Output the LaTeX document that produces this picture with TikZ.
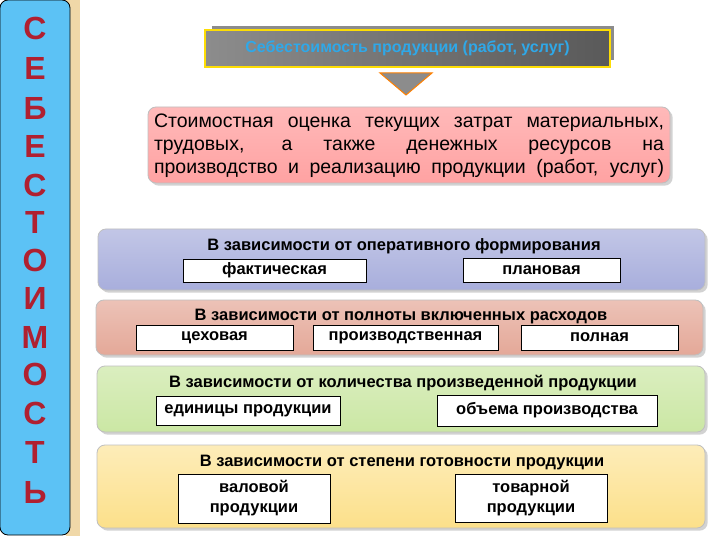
\documentclass[tikz,border=0pt]{standalone}
\usepackage{fontspec}
\setmainfont{Liberation Sans}
\usetikzlibrary{shadows}
\definecolor{barblue}{HTML}{5CC2F5}
\definecolor{beige}{HTML}{F0D8A8}
\definecolor{letred}{HTML}{B02030}
\definecolor{bandA}{HTML}{A8AEDC}
\definecolor{bandB}{HTML}{E4A898}
\definecolor{bandC}{HTML}{CBE7A4}
\definecolor{bandD}{HTML}{FCE08A}
\definecolor{pinkbox}{HTML}{FFA2A2}
\definecolor{ttlblue}{HTML}{2FA8E8}
\tikzset{
 band/.style={rounded corners=8pt, draw=black!25, line width=0.8pt, drop shadow={opacity=0.35}},
 sub/.style={draw=black, fill=white, line width=0.6pt, font=\bfseries\fontsize{16.5}{19}\selectfont, align=center, inner sep=0pt},
 btitle/.style={font=\bfseries\fontsize{16.5}{19}\selectfont},
 letter/.style={font=\bfseries\fontsize{32}{32}\selectfont, text=letred},
}
\begin{document}
\begin{tikzpicture}[x=1pt,y=-1pt]
\useasboundingbox (0,0) rectangle (720,540);
\fill[white] (0,0) rectangle (720,540);
% left bar
\fill[beige] (66,0) rectangle (80,536);
\draw[fill=barblue, rounded corners=8pt, line width=0.8pt] (0,0) rectangle (70,535);
\foreach \l/\y [count=\i] in {С/28,Е/68,Б/108,Е/146,С/185,Т/222,О/260,И/298,М/337,О/374,С/413,Т/452,Ь/492}
  \node[letter] (L\i) at (35,\y) {\l};
% title
\fill[black!45] (212,26) rectangle (614,60);
\node[draw=yellow!80!orange, line width=1.5pt, left color=black!45, right color=black!65, minimum width=405pt, minimum height=37pt, text=ttlblue, font=\bfseries\fontsize{16}{18}\selectfont, inner sep=0pt] (title) at (407.5,48.5) {Себестоимость продукции (работ, услуг)};
\draw[fill=black!45, draw=orange, line width=1pt] (380,73) -- (432,73) -- (406,95) -- cycle;
% pink
\node[band, top color=pinkbox!75, bottom color=pinkbox, minimum width=522pt, minimum height=76pt, inner sep=0pt] (def) at (409,145) {};
\node[font=\fontsize{19.5}{23}\selectfont, align=left, inner sep=0pt] (deftext) at (409,146) {\makebox[510pt][s]{Стоимостная оценка текущих затрат материальных,}\\\makebox[510pt][s]{трудовых, а также денежных ресурсов на}\\\makebox[510pt][s]{производство и реализацию продукции (работ, услуг)}};
% bands
\node[band, top color=bandA!70, bottom color=bandA, minimum width=607pt, minimum height=61pt] (b1) at (401.5,259.5) {};
\node[band, top color=bandB!70, bottom color=bandB, minimum width=607pt, minimum height=55pt] (b2) at (399.5,327.5) {};
\node[band, top color=bandC!70, bottom color=bandC, minimum width=608pt, minimum height=66pt] (b3) at (401,399) {};
\node[band, top color=bandD!60, bottom color=bandD, minimum width=608pt, minimum height=83pt] (b4) at (401,486.5) {};
\node[btitle] (t1) at (404,246) {В зависимости от оперативного формирования};
\node[btitle] (t2) at (401,317) {В зависимости от полноты включенных расходов};
\node[btitle] (t3) at (403,383) {В зависимости от количества произведенной продукции};
\node[btitle] (t4) at (402,463) {В зависимости от степени готовности продукции};
\node[sub, minimum width=183pt, minimum height=23pt] (s11) at (274.5,270.5) {фактическая};
\node[sub, minimum width=157pt, minimum height=24pt] (s12) at (541.5,270) {плановая};
\node[sub, minimum width=157pt, minimum height=25pt] (s21) at (214.5,337.5) {цеховая};
\node[sub, minimum width=185pt, minimum height=25pt] (s22) at (405.5,337.5) {производственная};
\node[sub, minimum width=157pt, minimum height=25pt] (s23) at (599.5,337.5) {полная};
\node[sub, minimum width=184pt, minimum height=29pt] (s31) at (248,410.5) {единицы продукции};
\node[sub, minimum width=220pt, minimum height=31pt] (s32) at (547,410.5) {объема производства};
\node[sub, minimum width=152pt, minimum height=49pt, font=\bfseries\fontsize{16.5}{20}\selectfont] (s41) at (254,498.5) {валовой\\продукции};
\node[sub, minimum width=152pt, minimum height=48pt, font=\bfseries\fontsize{16.5}{20}\selectfont] (s42) at (531,498) {товарной\\продукции};
\end{tikzpicture}
\end{document}
